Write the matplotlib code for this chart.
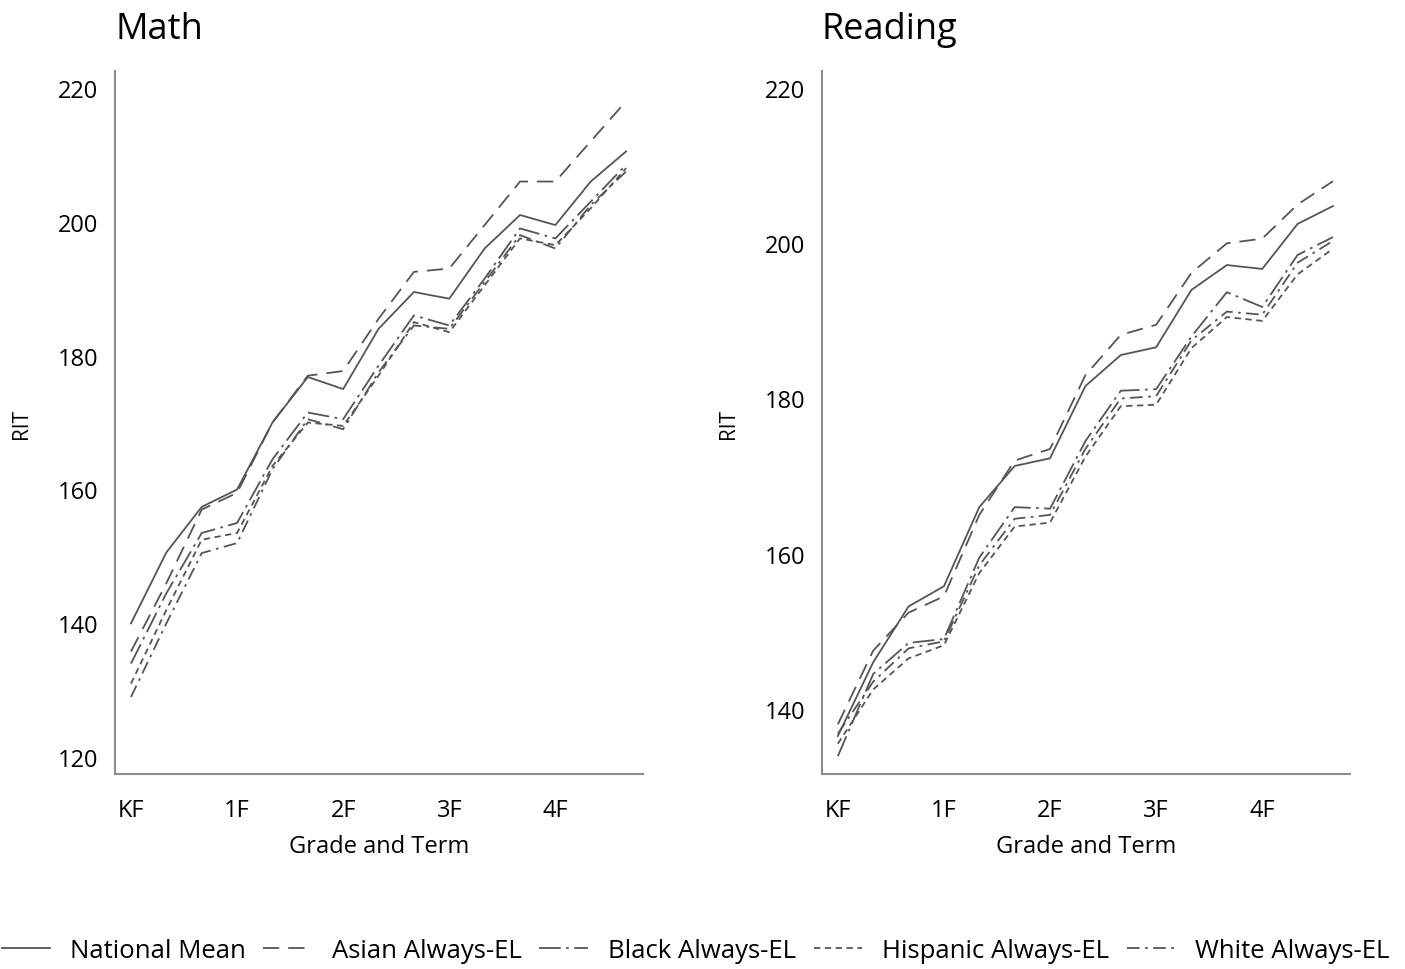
import matplotlib.pyplot as plt

plt.rcParams['font.family'] = ['Open Sans', 'DejaVu Sans']

# terms: fall / winter / spring for each grade K-4
terms = ['KF', 'KW', 'KS', '1F', '1W', '1S', '2F', '2W', '2S',
         '3F', '3W', '3S', '4F', '4W', '4S']
tick_labels = ['KF', '1F', '2F', '3F', '4F']

groups = ['National Mean', 'Asian Always-EL', 'Black Always-EL',
          'Hispanic Always-EL', 'White Always-EL']

# Math RIT
math_national = [140, 150.6, 157.4, 160, 170, 176.8, 175, 184, 189.5, 188.5, 196, 201, 199.5, 206, 210.5]
math_asian = [135.8, 146, 157, 159.5, 170, 177, 177.7, 185.5, 192.5, 193, 199.5, 206, 206, 212, 218]
math_black = [134, 144.5, 153.5, 155, 164.5, 171.5, 170.5, 178.5, 186, 184.5, 191.5, 199, 197.5, 203, 208.5]
math_hispanic = [131, 142, 152.5, 153.5, 163.5, 170, 169.5, 177, 185, 183.5, 190.5, 197.5, 196.5, 202, 208]
math_white = [129, 140, 150.5, 152, 163, 170.5, 169, 177.5, 184.5, 184, 191, 198, 196, 202.5, 207.5]

# Reading RIT
read_national = [136.5, 146, 153.2, 155.8, 166, 171.3, 172.3, 181.6, 185.6, 186.6, 194, 197.2, 196.7, 202.5, 204.8]
read_asian = [138, 147.5, 152.4, 154.5, 165, 172, 173.5, 183, 188.2, 189.5, 196.2, 200, 200.6, 205, 208]
read_black = [133.9, 144.5, 148.5, 149, 159.5, 166, 165.8, 174.5, 181, 181.2, 188, 193.7, 191.8, 198.5, 200.8]
read_hispanic = [135.5, 142.5, 146.5, 148.2, 157.5, 163.5, 164, 172.5, 179, 179.2, 186.5, 190.5, 190, 196, 199.3]
read_white = [136.8, 143.5, 147.8, 148.7, 158.5, 164.5, 165, 173.5, 180, 180.3, 187.5, 191.2, 190.8, 197.5, 200.3]

styles = ['-', (0, (9, 5)), (0, (12, 3, 1.5, 3)), (0, (3.5, 2.5)), (0, (7, 3, 1.5, 3))]
line_color = '#555555'

fig = plt.figure(figsize=(14.05, 9.7), dpi=100)
ax1 = fig.add_axes([0.0819, 0.201, 0.3758, 0.7247])
ax2 = fig.add_axes([0.585, 0.201, 0.3758, 0.7247])

x = list(range(len(terms)))
panels = [
    (ax1, 'Math', [math_national, math_asian, math_black, math_hispanic, math_white],
     (117.5, 222.5), [120, 140, 160, 180, 200, 220]),
    (ax2, 'Reading', [read_national, read_asian, read_black, read_hispanic, read_white],
     (131.6, 222.2), [140, 160, 180, 200, 220]),
]

for ax, title, series, ylim, yticks in panels:
    for vals, ls, name in zip(series, styles, groups):
        ax.plot(x, vals, color=line_color, linestyle=ls, linewidth=1.3, label=name)
    ax.set_xlim(-0.45, 14.48)
    ax.set_ylim(*ylim)
    ax.set_yticks(yticks)
    ax.set_xticks(x[::3])
    ax.set_xticklabels(tick_labels)
    ax.tick_params(length=0, labelsize=17)
    ax.tick_params(axis='y', pad=12)
    ax.tick_params(axis='x', pad=17)
    for s in ['top', 'right']:
        ax.spines[s].set_visible(False)
    for s in ['left', 'bottom']:
        ax.spines[s].set_color('#8c8c8c')
        ax.spines[s].set_linewidth(1.5)
    ax.set_title(title, loc='left', fontsize=26, pad=24)
    ax.set_xlabel('Grade and Term', fontsize=17, labelpad=9)
    ax.set_ylabel('RIT', fontsize=15)
    ax.yaxis.set_label_coords(-0.157, 0.5)

handles, labels = ax1.get_legend_handles_labels()
fig.legend(handles, labels, loc='lower center', bbox_to_anchor=(0.495, -0.018), ncol=5,
           frameon=False, fontsize=18.5, handlelength=1.9, handletextpad=0.75,
           columnspacing=0.7)

plt.savefig('out.png', dpi=100)
